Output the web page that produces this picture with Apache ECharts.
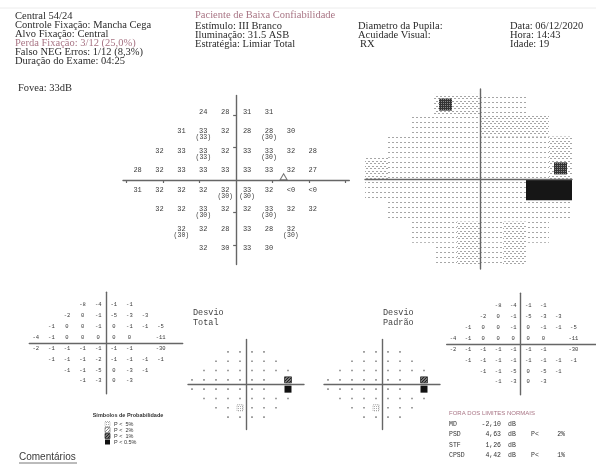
<!DOCTYPE html>
<html>
<head>
<meta charset="utf-8">
<script src="https://cdn.jsdelivr.net/npm/echarts@6/dist/echarts.min.js"></script>
<style>
html, body { margin: 0; padding: 0; background: #fff; }
#chart { width: 596px; height: 464px; }
</style>
</head>
<body>
<div id="chart"></div>
<script>
// grade 24-2 (graus), linhas de cima para baixo
var rowY = [21, 15, 9, 3, -3, -9, -15, -21];
var rowX = [
  [-9, -3, 3, 9],
  [-15, -9, -3, 3, 9, 15],
  [-21, -15, -9, -3, 3, 9, 15, 21],
  [-27, -21, -15, -9, -3, 3, 9, 15, 21],
  [-27, -21, -15, -9, -3, 3, 9, 15, 21],
  [-21, -15, -9, -3, 3, 9, 15, 21],
  [-15, -9, -3, 3, 9, 15],
  [-9, -3, 3, 9]
];
// limiares em dB
var limiar = [
  [24, 28, 31, 31],
  [31, 33, 32, 28, 28, 30],
  [32, 33, 33, 32, 33, 33, 32, 28],
  [28, 32, 33, 33, 33, 33, 33, 32, 27],
  [31, 32, 32, 32, 32, 33, 32, '<0', '<0'],
  [32, 32, 33, 32, 32, 33, 32, 32],
  [32, 32, 28, 33, 28, 32],
  [32, 30, 33, 30]
];
// pontos repetidos [x, y, dB]
var repeticoes = [[-9, 15, 33], [9, 15, 30], [-9, 9, 33], [9, 9, 30], [-3, -3, 30],
  [3, -3, 30], [-9, -9, 30], [9, -9, 30], [-15, -15, 30], [15, -15, 30]];
var manchaCega = [13, 1];
// desvios (null = mancha cega, nao plotado)
var desvioTotal = [
  [-8, -4, -1, -1],
  [-2, 0, -1, -5, -3, -3],
  [-1, 0, 0, -1, 0, -1, -1, -5],
  [-4, -1, 0, 0, 0, 0, 0, null, -11],
  [-2, -1, -1, -1, -1, -1, -1, null, -30],
  [-1, -1, -1, -2, -1, -1, -1, -1],
  [-1, -1, -5, 0, -3, -1],
  [-1, -3, 0, -3]
];
var desvioPadrao = [
  [-8, -4, -1, -1],
  [-2, 0, -1, -5, -3, -3],
  [-1, 0, 0, -1, 0, -1, -1, -5],
  [-4, -1, 0, 0, 0, 0, 0, null, -11],
  [-2, -1, -1, -1, -1, -1, -1, null, -30],
  [-1, -1, -1, -1, -1, -1, -1, -1],
  [-1, -1, -5, 0, -5, -1],
  [-1, -3, 0, -3]
];
// simbolos: 0 normal, 1 P<5%, 2 P<2%, 3 P<1%, 4 P<0,5%
var probTotal = [
  [0, 0, 0, 0],
  [0, 0, 0, 0, 0, 0],
  [0, 0, 0, 0, 0, 0, 0, 0],
  [0, 0, 0, 0, 0, 0, 0, null, 3],
  [0, 0, 0, 0, 0, 0, 0, null, 4],
  [0, 0, 0, 0, 0, 0, 0, 0],
  [0, 0, 1, 0, 0, 0],
  [0, 0, 0, 0]
];
var probPadrao = [
  [0, 0, 0, 0],
  [0, 0, 0, 0, 0, 0],
  [0, 0, 0, 0, 0, 0, 0, 0],
  [0, 0, 0, 0, 0, 0, 0, null, 3],
  [0, 0, 0, 0, 0, 0, 0, null, 4],
  [0, 0, 0, 0, 0, 0, 0, 0],
  [0, 0, 1, 0, 0, 0],
  [0, 0, 0, 0]
];
var indices = [['MD', '-2,10', '', ''], ['PSD', '4,63', 'P<', '2%'], ['STF', '1,26', '', ''], ['CPSD', '4,42', 'P<', '1%']];

function pontos(valores) {
  var out = [];
  rowY.forEach(function (y, i) {
    rowX[i].forEach(function (x, j) {
      var v = valores[i][j];
      if (v !== null && v !== undefined) out.push([x, y, v]);
    });
  });
  return out;
}

function textura(w, h, draw) {
  var c = document.createElement('canvas');
  c.width = w; c.height = h;
  draw(c.getContext('2d'));
  return { image: c, repeat: 'repeat' };
}
var tomClaro = textura(4, 5, function (ctx) { ctx.fillStyle = '#a6a6a6'; ctx.fillRect(0, 2, 2, 1); });
var tomMedio = textura(4, 5, function (ctx) { ctx.fillStyle = '#a6a6a6'; ctx.fillRect(0, 1, 2, 1); ctx.fillRect(2, 3, 2, 1); });
var tomEscuro = textura(2, 2, function (ctx) { ctx.fillStyle = '#333'; ctx.fillRect(0, 0, 2, 2); ctx.fillStyle = '#888'; ctx.fillRect(1, 1, 1, 1); });
var hachuraEscura = textura(3, 3, function (ctx) {
  ctx.fillStyle = '#777'; ctx.fillRect(0, 0, 3, 3);
  ctx.fillStyle = '#222'; ctx.fillRect(0, 2, 1, 1); ctx.fillRect(1, 1, 1, 1); ctx.fillRect(2, 0, 1, 1);
});
var hachuraClara = textura(3, 3, function (ctx) {
  ctx.fillStyle = '#888'; ctx.fillRect(0, 2, 1, 1); ctx.fillRect(1, 1, 1, 1); ctx.fillRect(2, 0, 1, 1);
});
var pontilhado = textura(2, 2, function (ctx) { ctx.fillStyle = '#aaa'; ctx.fillRect(0, 0, 1, 1); });

var dadosLimiar = pontos(limiar);
var dadosCinza = dadosLimiar.map(function (d) { return [d[0], d[1], d[2] === '<0' ? -1 : d[2]]; });
var dadosDT = pontos(desvioTotal);
var dadosDP = pontos(desvioPadrao);
var dadosPT = pontos(probTotal);
var dadosPP = pontos(probPadrao);

var mono = '"Liberation Mono", "DejaVu Sans Mono", monospace';
var serif = '"Liberation Serif", "DejaVu Serif", serif';

function rotulos(lista, size, dy, fmt) {
  return function (params, api) {
    var p = api.coord([api.value(0), api.value(1)]);
    var s = String(lista[params.dataIndex][2]);
    return {
      type: 'text', x: p[0], y: p[1] + dy,
      style: { text: fmt ? fmt(s) : s, fontSize: size, fontFamily: mono,
        fill: '#3a3a3a', align: 'center', verticalAlign: 'middle' }
    };
  };
}

function cinza(params, api) {
  var x = api.value(0), y = api.value(1), v = dadosCinza[params.dataIndex][2];
  var a = api.coord([x - 3, y + 3]), b = api.coord([x + 3, y - 3]);
  var kids = [{ type: 'rect', shape: { x: a[0], y: a[1], width: b[0] - a[0], height: b[1] - a[1] },
    style: { fill: v < 0 ? '#161616' : (v <= 30 ? tomMedio : tomClaro) } }];
  if (v >= 0 && v < 28) {
    var c = api.coord([x - 1.7, y + 1.7]), d = api.coord([x + 1.7, y - 1.7]);
    kids.push({ type: 'rect', shape: { x: c[0], y: c[1], width: d[0] - c[0], height: d[1] - c[1] },
      style: { fill: tomEscuro } });
  }
  return { type: 'group', children: kids };
}

function simbolos(lista) {
  return function (params, api) {
    var p = api.coord([api.value(0), api.value(1)]);
    var c = lista[params.dataIndex][2];
    if (c === 4) return { type: 'rect', shape: { x: p[0] - 3.5, y: p[1] - 3.5, width: 7, height: 7 }, style: { fill: '#111' } };
    if (c === 3) return { type: 'rect', shape: { x: p[0] - 3.5, y: p[1] - 3, width: 7, height: 6 }, style: { fill: hachuraEscura, stroke: '#333', lineWidth: 0.8 } };
    if (c === 2) return { type: 'rect', shape: { x: p[0] - 3, y: p[1] - 3, width: 6, height: 6 }, style: { fill: hachuraClara, stroke: '#888', lineWidth: 0.8 } };
    if (c === 1) return { type: 'rect', shape: { x: p[0] - 3, y: p[1] - 3, width: 6, height: 6 }, style: { fill: pontilhado, stroke: '#999', lineWidth: 0.8, lineDash: [1, 1] } };
    return { type: 'rect', shape: { x: p[0] - 0.8, y: p[1] - 0.8, width: 1.6, height: 1.6 }, style: { fill: '#888' } };
  };
}

function eixo(g, min, max, ticks, z) {
  return {
    type: 'value', gridIndex: g, min: min, max: max, z: z || 0,
    axisLine: { show: true, onZero: true, lineStyle: { color: '#666', width: 1.4 } },
    axisTick: ticks ? { show: true, length: 3, customValues: ticks, lineStyle: { color: '#666', width: 1.2 } } : { show: false },
    axisLabel: { show: false }, splitLine: { show: false }
  };
}

function texto(x, y, s, extra) {
  var st = { text: s, fontSize: 10.5, fontFamily: serif, fill: '#2b2b2b', verticalAlign: 'middle', align: 'left' };
  for (var k in extra) st[k] = extra[k];
  return { type: 'text', x: x, y: y, style: st };
}

var rosa = '#a87484';
var elementos = [
  { type: 'line', shape: { x1: 0, y1: 8, x2: 596, y2: 8 }, style: { stroke: '#ececec', lineWidth: 1 } },
  texto(15, 16, 'Central 54/24'),
  texto(15, 25.5, 'Controle Fixação: Mancha Cega'),
  texto(15, 34.5, 'Alvo Fixação: Central'),
  texto(15, 43, 'Perda Fixação: 3/12 (25,0%)', { fill: rosa }),
  texto(15, 52, 'Falso NEG Erros: 1/12 (8,3%)'),
  texto(15, 61, 'Duração do Exame: 04:25'),
  texto(18, 88, 'Fovea: 33dB'),
  texto(195, 15, 'Paciente de Baixa Confiabilidade', { fill: rosa }),
  texto(195, 26, 'Estímulo: III Branco'),
  texto(195, 35, 'Iluminação: 31.5 ASB'),
  texto(195, 44, 'Estratégia: Limiar Total'),
  texto(358, 26, 'Diametro da Pupila:'),
  texto(358, 35, 'Acuidade Visual:'),
  texto(360, 44, 'RX'),
  texto(510, 26, 'Data: 06/12/2020'),
  texto(510, 35, 'Hora: 14:43'),
  texto(510, 44, 'Idade: 19'),
  texto(193, 313, 'Desvio', { fontFamily: mono, fontSize: 8.5, fill: '#444' }),
  texto(193, 323, 'Total', { fontFamily: mono, fontSize: 8.5, fill: '#444' }),
  texto(383, 313, 'Desvio', { fontFamily: mono, fontSize: 8.5, fill: '#444' }),
  texto(383, 323, 'Padrão', { fontFamily: mono, fontSize: 8.5, fill: '#444' }),
  texto(128, 415, 'Símbolos de Probabilidade', { fontFamily: 'Arial, "Liberation Sans", sans-serif', fontSize: 5.5, fontWeight: 'bold', align: 'center', fill: '#333' }),
  texto(19, 457, 'Comentários', { fontFamily: '"Liberation Sans", Arial, sans-serif', fontSize: 10, fill: '#3a3a3a' }),
  { type: 'line', shape: { x1: 19, y1: 463, x2: 77, y2: 463 }, style: { stroke: '#555', lineWidth: 0.8 } },
  texto(449, 413, 'FORA DOS LIMITES NORMAIS', { fontFamily: '"Liberation Sans", Arial, sans-serif', fontSize: 6, fill: rosa })
];
// legenda de probabilidade
var legenda = [['P <  5%', 1], ['P <  2%', 2], ['P <  1%', 3], ['P < 0.5%', 4]];
var estilosLegenda = {
  1: { fill: pontilhado, stroke: '#999', lineWidth: 0.8, lineDash: [1, 1] },
  2: { fill: hachuraClara, stroke: '#888', lineWidth: 0.8 },
  3: { fill: hachuraEscura, stroke: '#333', lineWidth: 0.8 },
  4: { fill: '#111' }
};
legenda.forEach(function (l, i) {
  var y = 424 + i * 6;
  elementos.push({ type: 'rect', shape: { x: 105, y: y - 2.5, width: 5, height: 5 }, style: estilosLegenda[l[1]] });
  elementos.push(texto(114, y, l[0], { fontFamily: 'Arial, "Liberation Sans", sans-serif', fontSize: 5.5, fill: '#333' }));
});
indices.forEach(function (r, i) {
  var y = 424 + i * 10.5;
  var st = { fontFamily: mono, fontSize: 6.5, fill: '#333' };
  elementos.push(texto(449, y, r[0], st));
  elementos.push(texto(501, y, r[1], { fontFamily: mono, fontSize: 6.5, fill: '#333', align: 'right' }));
  elementos.push(texto(508, y, 'dB', st));
  if (r[2]) {
    elementos.push(texto(531, y, r[2], st));
    elementos.push(texto(565, y, r[3], { fontFamily: mono, fontSize: 6.5, fill: '#333', align: 'right' }));
  }
});

var chart = echarts.init(document.getElementById('chart'));
chart.setOption({
  animation: false,
  backgroundColor: '#fff',
  grid: [
    { left: 123, top: 95.5, width: 226.3, height: 169 },
    { left: 365, top: 89, width: 207, height: 180 },
    { left: 29.3, top: 292.3, width: 153.4, height: 101.4 },
    { left: 446.7, top: 293.3, width: 150, height: 101.4 },
    { left: 188, top: 339.5, width: 116, height: 90 },
    { left: 324, top: 339.5, width: 116, height: 90 }
  ],
  xAxis: [
    eixo(0, -31, 31, [-30, -20, -10, 10, 20, 30]),
    eixo(1, -30, 24, null, 5),
    eixo(2, -29.5, 29.5),
    eixo(3, -29.5, 30),
    eixo(4, -29, 29),
    eixo(5, -29, 29)
  ],
  yAxis: [
    eixo(0, -26, 26, [-20, -10, 10, 20]),
    eixo(1, -25.4, 25.4, null, 5),
    eixo(2, -28, 28),
    eixo(3, -28, 28),
    eixo(4, -29, 29),
    eixo(5, -29, 29)
  ],
  graphic: { elements: elementos },
  series: [
    { type: 'custom', xAxisIndex: 0, yAxisIndex: 0, renderItem: rotulos(dadosLimiar, 7, 0),
      data: dadosLimiar.map(function (d) { return [d[0], d[1]]; }), z: 3 },
    { type: 'custom', xAxisIndex: 0, yAxisIndex: 0,
      renderItem: rotulos(repeticoes, 6.5, 6.5, function (s) { return '(' + s + ')'; }),
      data: repeticoes.map(function (d) { return [d[0], d[1]]; }), z: 3 },
    { type: 'scatter', xAxisIndex: 0, yAxisIndex: 0, symbol: 'triangle', symbolSize: [7, 6],
      itemStyle: { color: '#fff', borderColor: '#555', borderWidth: 1 }, data: [manchaCega], z: 4 },
    { type: 'custom', xAxisIndex: 1, yAxisIndex: 1, renderItem: cinza,
      data: dadosCinza.map(function (d) { return [d[0], d[1]]; }), z: 2 },
    { type: 'custom', xAxisIndex: 2, yAxisIndex: 2, renderItem: rotulos(dadosDT, 5.5, 0),
      data: dadosDT.map(function (d) { return [d[0], d[1]]; }), z: 3 },
    { type: 'custom', xAxisIndex: 3, yAxisIndex: 3, renderItem: rotulos(dadosDP, 5.5, 0),
      data: dadosDP.map(function (d) { return [d[0], d[1]]; }), z: 3 },
    { type: 'custom', xAxisIndex: 4, yAxisIndex: 4, renderItem: simbolos(dadosPT),
      data: dadosPT.map(function (d) { return [d[0], d[1]]; }), z: 3 },
    { type: 'custom', xAxisIndex: 5, yAxisIndex: 5, renderItem: simbolos(dadosPP),
      data: dadosPP.map(function (d) { return [d[0], d[1]]; }), z: 3 }
  ]
});
</script>
</body>
</html>
